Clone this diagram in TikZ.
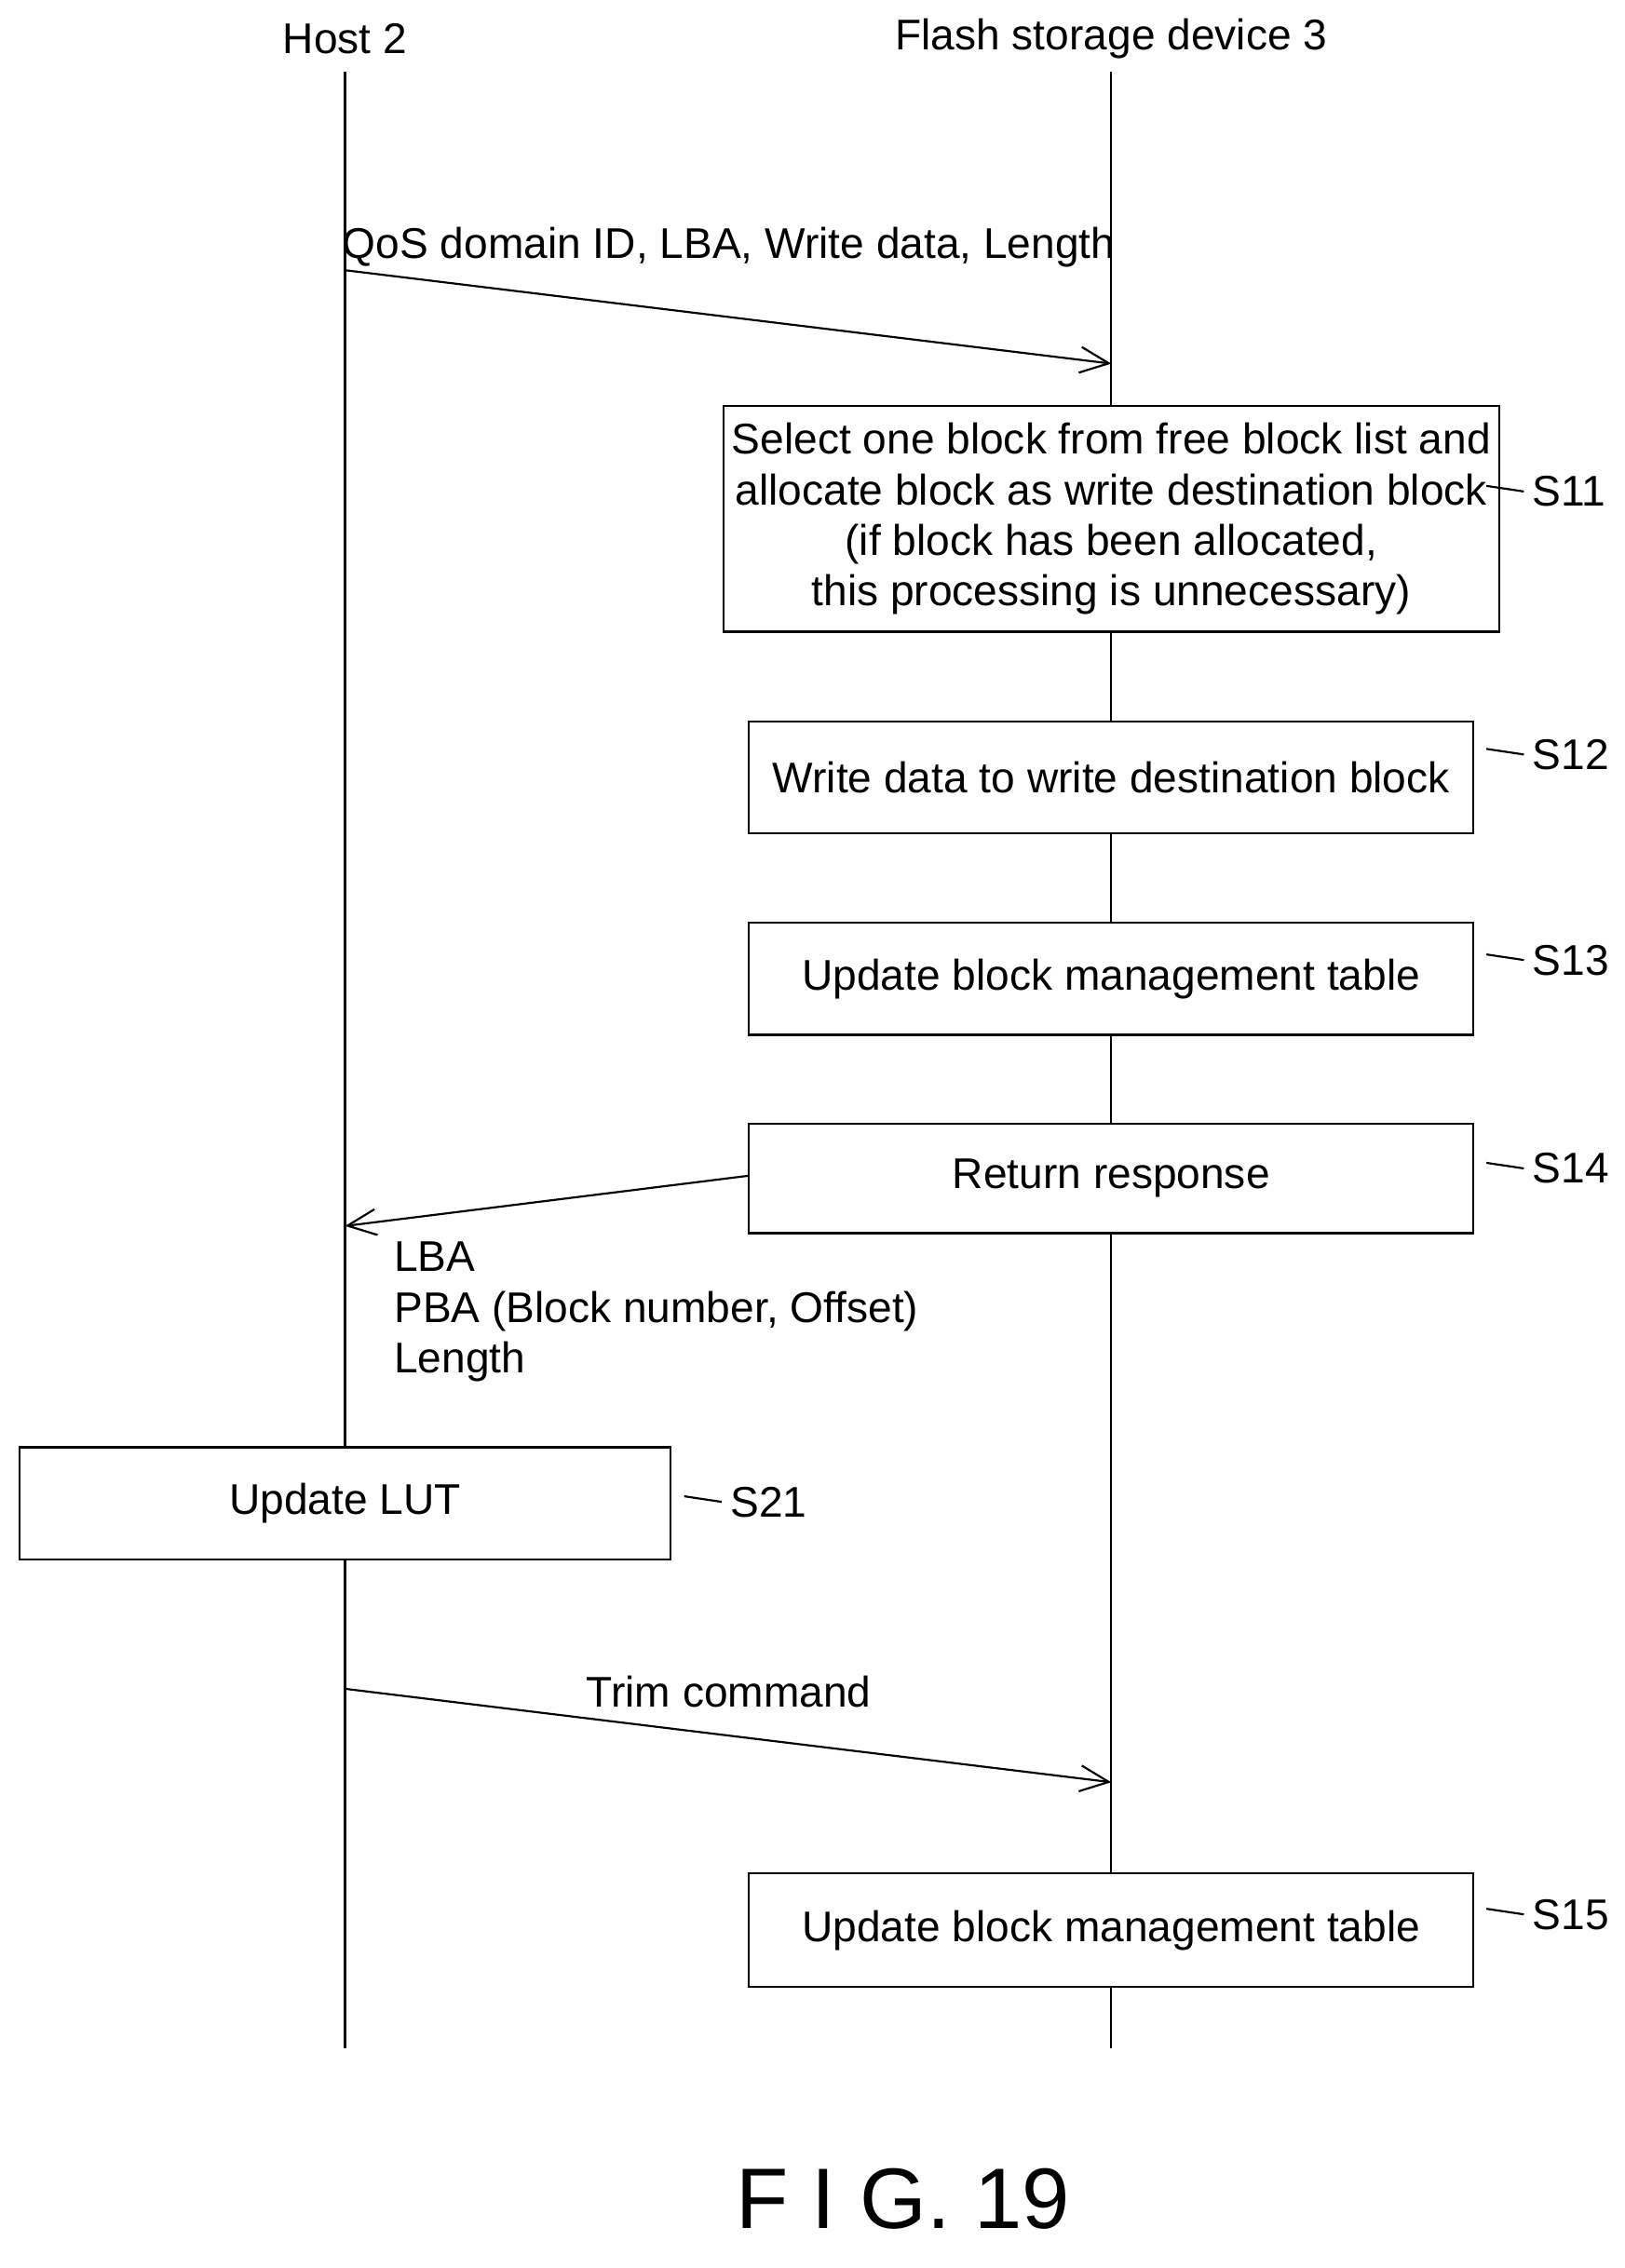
\documentclass[tikz,border=0pt]{standalone}
\usepackage{fontspec}
\setmainfont{Liberation Sans}
\usetikzlibrary{arrows.meta,positioning,calc}
\tikzset{
  stepbox/.style={draw, thick, fill=white, minimum width=10.08cm, align=center, font=\fontsize{17}{20}\selectfont},
  msg/.style={thick, -{Straight Barb[length=4mm,width=3.6mm]}},
  txt/.style={font=\fontsize{17}{20}\selectfont},
  lifeline/.style={thick},
  tag/.style={font=\fontsize{17}{20}\selectfont, anchor=west}
}
\newcommand{\wig}[2]{\draw[thick] (#1) .. controls ++(0.12,0.18) and ++(-0.12,-0.18) .. (#2.west);}
\begin{document}
\begin{tikzpicture}[x=0.02cm,y=-0.02cm]
\useasboundingbox (0,0) rectangle (1130,1578);
% lifelines
\node[txt] (host) at (240,27) {Host 2};
\node[txt] (dev) at (773,27) {Flash storage device 3};
\coordinate (hTop) at (240,50); \coordinate (hBot) at (240,1425);
\coordinate (dTop) at (773,50); \coordinate (dBot) at (773,1425);
\draw[lifeline] (hTop) -- (hBot);
\draw[lifeline] (dTop) -- (dBot);
% write request
\coordinate (w0) at (240,188); \coordinate (w1) at (773,253);
\draw[msg] (w0) -- (w1);
\node[txt] (wlbl) at (507,172) {QoS domain ID, LBA, Write data, Length};
% device steps
\node[stepbox, minimum height=3.14cm] (s11) at (773,361) {Select one block from free block list and\\allocate block as write destination block\\(if block has been allocated,\\this processing is unnecessary)};
\node[stepbox, minimum height=1.56cm] (s12) at (773,541) {Write data to write destination block};
\node[stepbox, minimum height=1.56cm] (s13) at (773,681) {Update block management table};
\node[stepbox, minimum height=1.52cm] (s14) at (773,820) {Return response};
\node[tag] (t11) at (1060,342) {S11};
\node[tag] (t12) at (1060,525) {S12};
\node[tag] (t13) at (1060,668) {S13};
\node[tag] (t14) at (1060,813) {S14};
\coordinate (c11) at (1034,338); \wig{c11}{t11}
\coordinate (c12) at (1034,521); \wig{c12}{t12}
\coordinate (c13) at (1034,664); \wig{c13}{t13}
\coordinate (c14) at (1034,809); \wig{c14}{t14}
% response
\coordinate (r0) at (521,818); \coordinate (r1) at (240,853);
\draw[msg] (r0) -- (r1);
\node[txt, align=left, anchor=north west] (rlbl) at (268,858) {LBA\\PBA (Block number, Offset)\\Length};
% host step
\node[stepbox, minimum width=9.06cm, minimum height=1.56cm] (s21) at (240,1046) {Update LUT};
\node[tag] (t21) at (502,1045) {S21};
\coordinate (c21) at (476,1041); \wig{c21}{t21}
% trim
\coordinate (m0) at (240,1175); \coordinate (m1) at (773,1240);
\draw[msg] (m0) -- (m1);
\node[txt] (mlbl) at (507,1177) {Trim command};
\node[stepbox, minimum height=1.58cm] (s15) at (773,1343) {Update block management table};
\node[tag] (t15) at (1060,1332) {S15};
\coordinate (c15) at (1034,1328); \wig{c15}{t15}
% caption
\node[font=\fontsize{34}{40}\selectfont] (fig) at (628,1530) {F I G. 19};
\end{tikzpicture}
\end{document}
